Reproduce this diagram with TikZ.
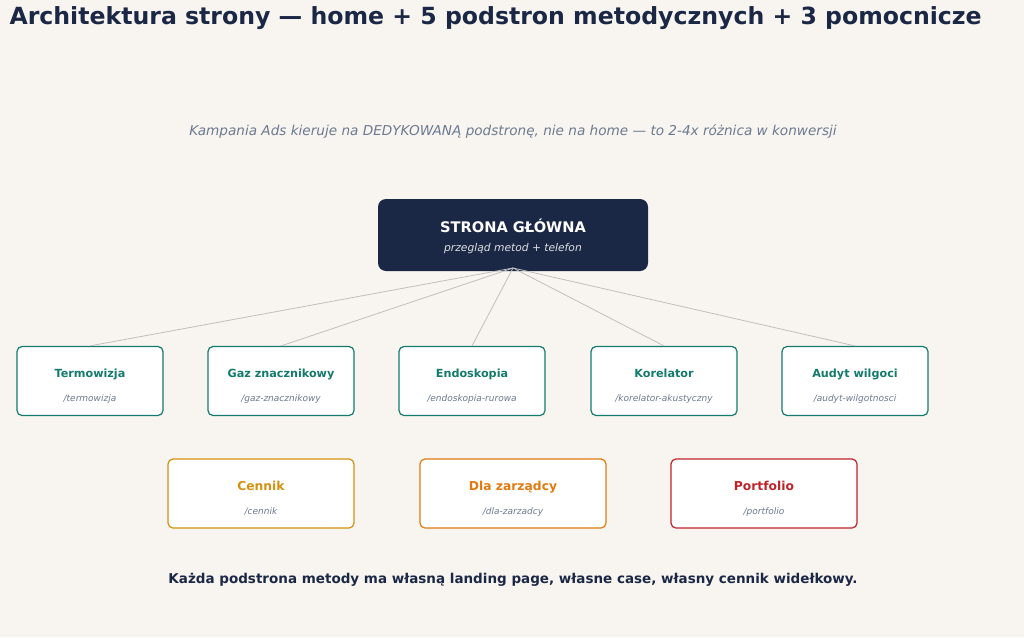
\documentclass[tikz,border=0pt]{standalone}
\usepackage{fontspec}
\setmainfont{DejaVu Sans}
\begin{document}
\begin{tikzpicture}[x=1pt,y=-1pt,
  card/.style={draw=#1,line width=1.2pt,rounded corners=5pt,fill=white,minimum width=146pt,minimum height=69pt,align=center,inner sep=0pt},
  ttl/.style={font=\bfseries\fontsize{11.2}{13}\selectfont},
  pth/.style={font=\itshape\fontsize{9}{10}\selectfont,text=slate},
  link/.style={draw=gray!50,line width=0.8pt}]
\definecolor{bg}{HTML}{F8F5F0}
\definecolor{navy}{HTML}{1B2845}
\definecolor{teal}{HTML}{147A6C}
\definecolor{slate}{HTML}{6B7A90}
\definecolor{gold}{HTML}{D4910F}
\definecolor{orng}{HTML}{E07A10}
\definecolor{rd}{HTML}{C0222A}
\fill[bg] (0,0) rectangle (1024,637);
\useasboundingbox (0,0) rectangle (1024,637);
\node[anchor=west,font=\bfseries\fontsize{23.6}{26}\selectfont,text=navy] (title) at (6,18) {Architektura strony — home + 5 podstron metodycznych + 3 pomocnicze};
\node[font=\itshape\fontsize{13.6}{16}\selectfont,text=slate] (sub) at (513,131) {Kampania Ads kieruje na DEDYKOWANĄ podstronę, nie na home — to 2-4x różnica w konwersji};
\node[fill=navy,rounded corners=8pt,minimum width=270pt,minimum height=72pt,inner sep=0pt] (home) at (513,235) {};
\node[font=\bfseries\fontsize{14.6}{16}\selectfont,text=white] at (513,226) {STRONA GŁÓWNA};
\node[font=\itshape\fontsize{10.7}{12}\selectfont,text=white!85!navy] at (513,249) {przegląd metod + telefon};
\coordinate (hb) at (513,268);
\foreach \n/\x/\t/\p in {t/90/Termowizja/termowizja, g/281/Gaz znacznikowy/gaz-znacznikowy, e/472/Endoskopia/endoskopia-rurowa, k/664/Korelator/korelator-akustyczny, a/855/Audyt wilgoci/audyt-wilgotnosci}{
  \node[card=teal] (\n) at (\x,381) {};
  \node[ttl,text=teal,anchor=base] at (\x,377) {\t};
  \node[pth,anchor=base] at (\x,401) {/\p};
  \draw[link] (hb) -- (\n.north);
}
\foreach \n/\x/\c/\t/\p in {c/261/gold/Cennik/cennik, d/513/orng/Dla zarządcy/dla-zarzadcy, p/764/rd/Portfolio/portfolio}{
  \node[card=\c,minimum width=186pt] (\n) at (\x,493.5) {};
  \node[text=\c,font=\bfseries\fontsize{12.3}{14}\selectfont,anchor=base] at (\x,490) {\t};
  \node[pth,anchor=base] at (\x,514) {/\p};
}
\node[font=\bfseries\fontsize{13.5}{15}\selectfont,text=navy] (foot) at (513,580) {Każda podstrona metody ma własną landing page, własne case, własny cennik widełkowy.};
\end{tikzpicture}
\end{document}
